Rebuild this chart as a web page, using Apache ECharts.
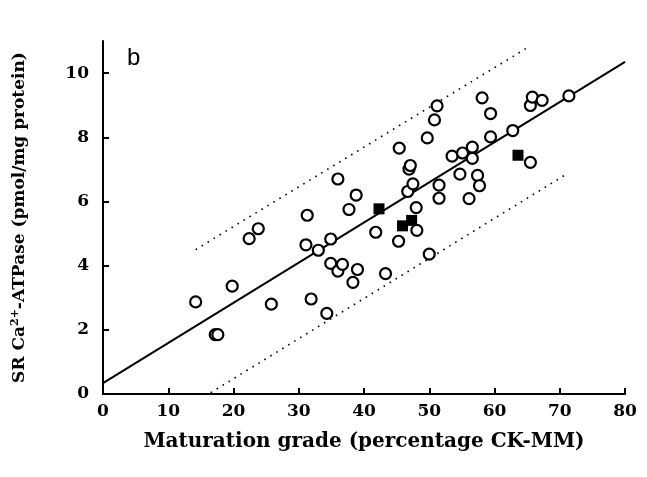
<!DOCTYPE html>
<html>
<head>
<meta charset="utf-8">
<script src="https://cdn.jsdelivr.net/npm/echarts@6/dist/echarts.min.js"></script>
<style>
  html, body { margin: 0; padding: 0; background: #fff; }
  #chart { width: 647px; height: 477px; }
</style>
</head>
<body>
<div id="chart"></div>
<script>
// open circles: [maturation grade %, SR Ca-ATPase]
var circleX = [14.2, 17.2, 17.6, 19.8, 22.4, 23.8, 25.8, 31.1, 31.3, 31.9, 33.0, 34.3, 34.9, 34.9,
  36.0, 36.0, 36.7, 37.7, 38.3, 38.8, 39.0, 41.8, 43.3, 45.3, 45.4, 46.7, 46.9, 47.1, 47.5, 48.0,
  48.1, 49.7, 50.0, 50.8, 51.2, 51.5, 51.5, 53.5, 54.7, 55.1, 56.1, 56.6, 56.6, 57.4, 57.7, 58.1,
  59.4, 59.4, 62.8, 65.5, 65.5, 65.8, 67.3, 71.4]
var circleY = [2.87, 1.85, 1.85, 3.36, 4.84, 5.15, 2.80, 4.65, 5.57, 2.96, 4.48, 2.51, 4.83, 4.07,
  6.70, 3.83, 4.04, 5.75, 3.48, 6.20, 3.88, 5.04, 3.75, 4.76, 7.66, 6.31, 7.01, 7.12, 6.55, 5.81,
  5.10, 7.98, 4.36, 8.54, 8.98, 6.10, 6.51, 7.41, 6.85, 7.51, 6.09, 7.69, 7.34, 6.81, 6.49, 9.23,
  8.74, 8.01, 8.21, 8.99, 7.22, 9.25, 9.15, 9.29]
// filled squares
var squareX = [42.3, 45.9, 47.3, 63.6]
var squareY = [5.77, 5.24, 5.41, 7.44]
// regression line and prediction band ends
var fitX = [0, 80]
var fitY = [0.34, 10.35]
var upperX = [14.2, 65.5]
var upperY = [4.50, 10.85]
var lowerX = [16.5, 70.7]
var lowerY = [0.04, 6.81]
var xTicks = [0, 10, 20, 30, 40, 50, 60, 70, 80]
var yTicks = [0, 2, 4, 6, 8, 10]

function pairs(xs, ys) {
  return xs.map(function (x, i) { return [x, ys[i]] })
}

var serif = '"DejaVu Serif", "Liberation Serif", serif'
var chart = echarts.init(document.getElementById('chart'))
var option = {
  animation: false,
  backgroundColor: '#fff',
  grid: { left: 103, right: 22, top: 41, bottom: 83, containLabel: false },
  xAxis: {
    type: 'value',
    min: xTicks[0],
    max: xTicks[xTicks.length - 1],
    interval: 10,
    name: 'Maturation grade (percentage CK-MM)',
    nameLocation: 'middle',
    nameGap: 38,
    nameTextStyle: { fontFamily: serif, fontWeight: 'bold', fontSize: 20, color: '#000' },
    axisLine: { lineStyle: { color: '#000', width: 2 } },
    axisTick: { inside: true, length: 6, lineStyle: { color: '#000', width: 2 } },
    axisLabel: { margin: 9, fontFamily: serif, fontWeight: 'bold', fontSize: 17, color: '#000' },
    splitLine: { show: false }
  },
  yAxis: {
    type: 'value',
    min: yTicks[0],
    max: 11,
    interval: 2,
    name: '{t|SR Ca}{s|2+}{t|-ATPase (pmol/mg protein)}',
    nameLocation: 'middle',
    nameGap: 74,
    nameTextStyle: {
      rich: {
        t: { fontFamily: serif, fontWeight: 'bold', fontSize: 17, color: '#000' },
        s: { fontFamily: serif, fontWeight: 'bold', fontSize: 11, color: '#000', verticalAlign: 'top', padding: [0, 0, 8, 0] }
      }
    },
    axisLine: { show: true, lineStyle: { color: '#000', width: 2 } },
    axisTick: { show: true, inside: true, length: 6, lineStyle: { color: '#000', width: 2 } },
    axisLabel: { margin: 14, showMaxLabel: false, fontFamily: serif, fontWeight: 'bold', fontSize: 17, color: '#000' },
    splitLine: { show: false }
  },
  graphic: [{
    type: 'text',
    left: 127,
    top: 46,
    style: { text: 'b', font: '24px "Liberation Sans", Arial, sans-serif', fill: '#000' }
  }],
  series: [
    {
      name: 'fit',
      type: 'line',
      data: pairs(fitX, fitY),
      symbol: 'none',
      lineStyle: { color: '#000', width: 2 },
      z: 1
    },
    {
      name: 'upper',
      type: 'line',
      data: pairs(upperX, upperY),
      symbol: 'none',
      lineStyle: { color: '#000', width: 1.6, type: [1.6, 5.4] },
      z: 1
    },
    {
      name: 'lower',
      type: 'line',
      data: pairs(lowerX, lowerY),
      symbol: 'none',
      lineStyle: { color: '#000', width: 1.6, type: [1.6, 5.4] },
      z: 1
    },
    {
      name: 'circles',
      type: 'scatter',
      data: pairs(circleX, circleY),
      symbol: 'circle',
      symbolSize: 11,
      itemStyle: { color: '#fff', borderColor: '#000', borderWidth: 2.2, opacity: 1 },
      z: 3
    },
    {
      name: 'squares',
      type: 'scatter',
      data: pairs(squareX, squareY),
      symbol: 'rect',
      symbolSize: 11,
      itemStyle: { color: '#000', opacity: 1 },
      z: 4
    }
  ]
}
option && chart.setOption(option)
</script>
</body>
</html>
